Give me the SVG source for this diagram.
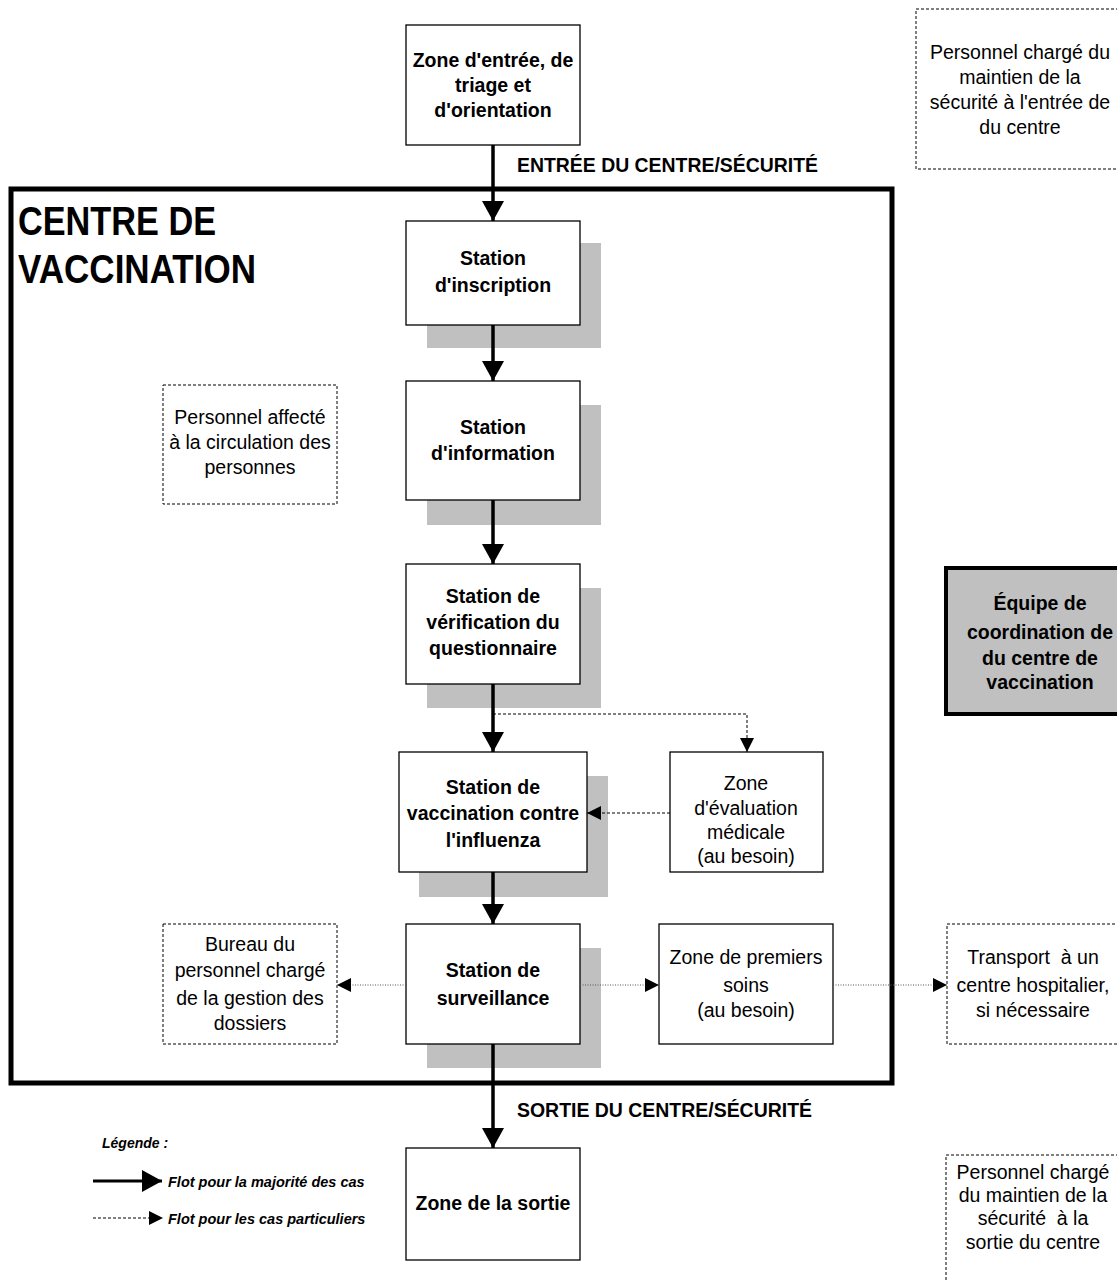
<svg xmlns="http://www.w3.org/2000/svg" width="1117" height="1281" viewBox="0 0 1117 1281">
<style>
text{font-family:"Liberation Sans",Arial,sans-serif;fill:#000}
.b{font-weight:bold;font-size:19.5px;text-anchor:middle}
.r{font-size:19.5px;text-anchor:middle}
.pre{white-space:pre}
.box{fill:#fff;stroke:#000;stroke-width:1.3}
.dbox{fill:#fff;stroke:#000;stroke-width:1;stroke-dasharray:3 2}
.sh{fill:#c0c0c0}
.main{stroke:#000;stroke-width:3.5;fill:none}
.dash{stroke:#000;stroke-width:1;stroke-dasharray:3 2;fill:none}
.dot{stroke:#555;stroke-width:1;stroke-dasharray:1 1.5;fill:none}
.lg{font-weight:bold;font-style:italic;font-size:14.5px}
</style>
<defs>
<marker id="big" markerUnits="userSpaceOnUse" markerWidth="20" markerHeight="22" refX="20" refY="11" orient="auto" viewBox="0 0 20 22"><path d="M0,0 L20,11 L0,22 z" fill="#000"/></marker>
<marker id="sm" markerUnits="userSpaceOnUse" markerWidth="14" markerHeight="14" refX="14" refY="7" orient="auto" viewBox="0 0 14 14"><path d="M0,0 L14,7 L0,14 z" fill="#000"/></marker>
</defs>
<rect id="frame" x="11" y="189" width="881" height="894" fill="none" stroke="#000" stroke-width="5"/>
<g id="title"><text x="18" y="235" font-weight="bold" font-size="41" textLength="198" lengthAdjust="spacingAndGlyphs">CENTRE DE</text><text x="18" y="283" font-weight="bold" font-size="41" textLength="238" lengthAdjust="spacingAndGlyphs">VACCINATION</text></g>
<g id="entree"><rect class="box" x="406" y="25" width="174" height="120"/><text class="b" x="493" y="67">Zone d'entrée, de</text><text class="b" x="493" y="92">triage et</text><text class="b" x="493" y="117">d'orientation</text></g>
<text x="517" y="172" font-weight="bold" font-size="20" textLength="301" lengthAdjust="spacingAndGlyphs">ENTRÉE DU CENTRE/SÉCURITÉ</text>
<g id="securite-entree"><rect class="dbox" x="916" y="9" width="215" height="160"/><text class="r" x="1020" y="59">Personnel chargé du</text><text class="r" x="1020" y="84">maintien de la</text><text class="r" x="1020" y="109">sécurité à l'entrée de</text><text class="r" x="1020" y="134">du centre</text></g>
<g id="inscription"><rect class="sh" x="427" y="243" width="174" height="105"/><rect class="box" x="406" y="221" width="174" height="104"/><text class="b" x="493" y="265">Station</text><text class="b" x="493" y="292">d'inscription</text></g>
<g id="information"><rect class="sh" x="427" y="405" width="174" height="120"/><rect class="box" x="406" y="381" width="174" height="119"/><text class="b" x="493" y="434">Station</text><text class="b" x="493" y="460">d'information</text></g>
<g id="circulation"><rect class="dbox" x="163" y="385" width="174" height="119"/><text class="r" x="250" y="424">Personnel affecté</text><text class="r" x="250" y="449">à la circulation des</text><text class="r" x="250" y="474">personnes</text></g>
<g id="verification"><rect class="sh" x="427" y="588" width="174" height="120"/><rect class="box" x="406" y="564" width="174" height="120"/><text class="b" x="493" y="603">Station de</text><text class="b" x="493" y="629">vérification du</text><text class="b" x="493" y="655">questionnaire</text></g>
<g id="coordination"><rect x="946" y="568" width="190" height="146" fill="#c0c0c0" stroke="#000" stroke-width="4"/><text class="b" x="1040" y="610">Équipe de</text><text class="b" x="1040" y="639">coordination de</text><text class="b" x="1040" y="665">du centre de</text><text class="b" x="1040" y="689">vaccination</text></g>
<g id="vaccination"><rect class="sh" x="419" y="776" width="189" height="121"/><rect class="box" x="399" y="752" width="188" height="120"/><text class="b" x="493" y="794">Station de</text><text class="b" x="493" y="820">vaccination contre</text><text class="b" x="493" y="847">l'influenza</text></g>
<g id="evaluation"><rect class="box" x="670" y="752" width="153" height="120"/><text class="r" x="746" y="790">Zone</text><text class="r" x="746" y="815">d'évaluation</text><text class="r" x="746" y="839">médicale</text><text class="r" x="746" y="863">(au besoin)</text></g>
<g id="surveillance"><rect class="sh" x="427" y="948" width="174" height="120"/><rect class="box" x="406" y="924" width="174" height="120"/><text class="b" x="493" y="977">Station de</text><text class="b" x="493" y="1005">surveillance</text></g>
<g id="bureau"><rect class="dbox" x="163" y="924" width="174" height="120"/><text class="r" x="250" y="951">Bureau du</text><text class="r" x="250" y="977">personnel chargé</text><text class="r" x="250" y="1005">de la gestion des</text><text class="r" x="250" y="1030">dossiers</text></g>
<g id="premiers-soins"><rect class="box" x="659" y="924" width="174" height="120"/><text class="r" x="746" y="964">Zone de premiers</text><text class="r" x="746" y="992">soins</text><text class="r" x="746" y="1017">(au besoin)</text></g>
<g id="transport"><rect class="dbox" x="947" y="924" width="180" height="120"/><text class="r pre" x="1033" y="964">Transport  à un</text><text class="r" x="1033" y="992">centre hospitalier,</text><text class="r" x="1033" y="1017">si nécessaire</text></g>
<text x="517" y="1117" font-weight="bold" font-size="20" textLength="295" lengthAdjust="spacingAndGlyphs">SORTIE DU CENTRE/SÉCURITÉ</text>
<g id="sortie"><rect class="box" x="406" y="1148" width="174" height="112"/><text class="b" x="493" y="1210">Zone de la sortie</text></g>
<g id="securite-sortie"><rect class="dbox" x="946" y="1155" width="185" height="150"/><text class="r" x="1033" y="1179">Personnel chargé</text><text class="r" x="1033" y="1202">du maintien de la</text><text class="r pre" x="1033" y="1225">sécurité  à la</text><text class="r" x="1033" y="1249">sortie du centre</text></g>
<g id="legende"><text x="102" y="1148" font-weight="bold" font-style="italic" font-size="14">Légende :</text>
<line x1="93" y1="1181" x2="162" y2="1181" stroke="#000" stroke-width="3" marker-end="url(#big)"/>
<text class="lg" x="168" y="1187">Flot pour la majorité des cas</text>
<line x1="93" y1="1218" x2="163" y2="1218" class="dash" marker-end="url(#sm)"/>
<text class="lg" x="168" y="1224">Flot pour les cas particuliers</text></g>
<g id="connectors">
<line class="main" x1="493" y1="145" x2="493" y2="221" marker-end="url(#big)"/>
<line class="main" x1="493" y1="325" x2="493" y2="381" marker-end="url(#big)"/>
<line class="main" x1="493" y1="500" x2="493" y2="564" marker-end="url(#big)"/>
<line class="main" x1="493" y1="684" x2="493" y2="752" marker-end="url(#big)"/>
<line class="main" x1="493" y1="872" x2="493" y2="924" marker-end="url(#big)"/>
<line class="main" x1="493" y1="1044" x2="493" y2="1148" marker-end="url(#big)"/>
<polyline class="dash" points="493,714 747,714 747,752" marker-end="url(#sm)"/>
<line class="dash" x1="670" y1="813" x2="587" y2="813" marker-end="url(#sm)"/>
<line class="dot" x1="406" y1="985" x2="337" y2="985" marker-end="url(#sm)"/>
<line class="dot" x1="580" y1="985" x2="659" y2="985" marker-end="url(#sm)"/>
<line class="dot" x1="833" y1="985" x2="947" y2="985" marker-end="url(#sm)"/>
</g>
</svg>
